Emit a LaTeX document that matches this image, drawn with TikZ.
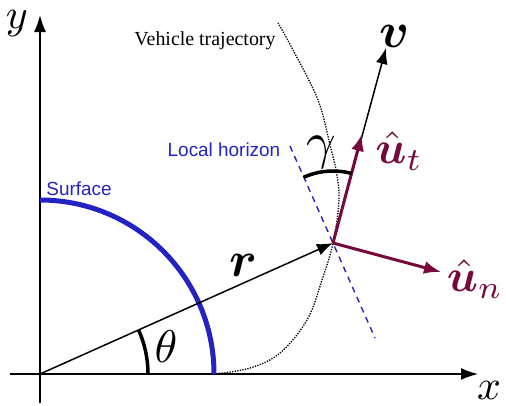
\documentclass[tikz,border=0pt]{standalone}
\usepackage{bm}
\usepackage{fontspec}
\setmainfont{Liberation Serif}
\newfontfamily\lsans{Liberation Sans}
\usetikzlibrary{arrows.meta}
\definecolor{surfblue}{RGB}{35,35,195}
\definecolor{vecred}{RGB}{118,8,60}
\begin{document}
\begin{tikzpicture}[x=1bp,y=1bp,
  axisarrow/.style={line width=1.5bp,-{Latex[length=17bp,width=12bp]}},
  thinvec/.style={line width=1.5bp,-{Latex[length=16bp,width=12bp]}},
  unitvec/.style={line width=3bp,vecred,-{Latex[length=17bp,width=13bp]}},
  anglearc/.style={line width=3.5bp},
  surfline/.style={line width=5bp,surfblue},
  trajline/.style={line width=1.3bp,dash pattern=on 1.3bp off 1.3bp},
  horizline/.style={line width=1.4bp,surfblue,dash pattern=on 6bp off 5bp},
  mathlbl/.style={inner sep=0pt,scale=#1},
  serlbl/.style={inner sep=0pt,anchor=base,font=\fontsize{20}{24}\selectfont},
  sanslbl/.style={inner sep=0pt,anchor=base,text=surfblue,font=\lsans\fontsize{19}{23}\selectfont}]
\useasboundingbox (0,0) rectangle (506,405);
% coordinates
\coordinate (O) at (40,31);
\coordinate (xs) at (10,31);
\coordinate (xe) at (478,31);
\coordinate (ys) at (40,2);
\coordinate (ye) at (40,390);
\coordinate (S0) at (214,31);
\coordinate (T0) at (148,31);
\coordinate (P) at (333,162);
\coordinate (V) at (386,357);
\coordinate (Ut) at (362,271);
\coordinate (Un) at (441,133);
\coordinate (H1) at (290,259);
\coordinate (H2) at (375,67);
\coordinate (G0) at (351.8,231.5);
% axes
\draw[axisarrow] (xs) -- (xe);
\draw[axisarrow] (ys) -- (ye);
% trajectory
\draw[trajline] plot[smooth,tension=0.6] coordinates {(214,31) (250,37) (280,52) (307,85) (322,125) (333,162) (339,205) (336,235) (330,260) (318,305) (293,355) (278,382)};
% surface
\draw[surfline] (S0) arc (0:90:174);
% local horizon
\draw[horizline] (H1) -- (H2);
% position vector
\draw[thinvec] (O) -- (P);
% theta arc
\draw[anglearc] (T0) arc (0:24.1:108);
% velocity
\draw[thinvec] (P) -- (V);
% unit vectors
\draw[unitvec] (P) -- (Ut);
\draw[unitvec] (P) -- (Un);
% gamma arc
\draw[anglearc] (G0) arc (74.9:114.1:72);
% labels
\node[mathlbl=4.2] (ylab) at (17,381) {$y$};
\node[mathlbl=4.2] (xlab) at (489,15) {$x$};
\node[mathlbl=4.6] (thlab) at (166,58) {$\theta$};
\node[mathlbl=5.2] (glab) at (321,253) {$\gamma$};
\node[mathlbl=5] (vlab) at (395,369) {$\bm{v}$};
\node[mathlbl=5] (rlab) at (243,140) {$\bm{r}$};
\node[mathlbl=4.6,text=vecred] (utlab) at (399,254) {$\hat{\bm{u}}_t$};
\node[mathlbl=4.6,text=vecred] (unlab) at (475,126) {$\hat{\bm{u}}_n$};
\node[serlbl] (trajlab) at (205,360) {Vehicle trajectory};
\node[sanslbl] (horlab) at (224,249) {Local horizon};
\node[sanslbl] (surflab) at (79,210) {Surface};
\end{tikzpicture}
\end{document}
